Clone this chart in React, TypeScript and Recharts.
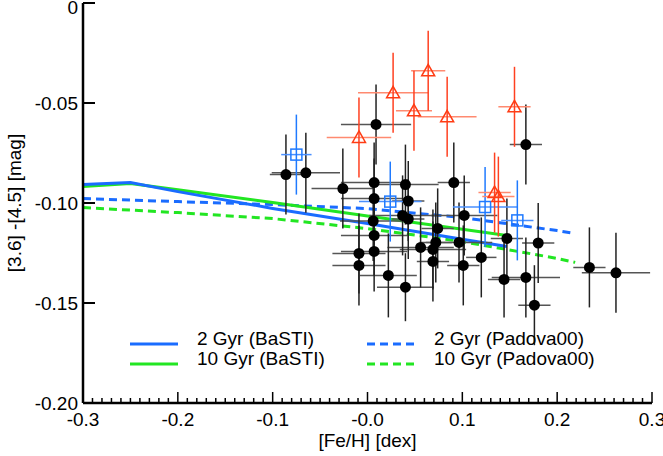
import { ComposedChart, Line, Scatter, XAxis, YAxis, ErrorBar, Legend } from "recharts"

const FONT = '"Liberation Sans", Arial, Helvetica, sans-serif'

// model tracks: [Fe/H] vs [3.6]-[4.5]
const bastiFe = [-0.3, -0.25, -0.2, -0.1, 0.0, 0.1, 0.147]
const basti2Gyr = [-0.0908, -0.0898, -0.0943, -0.1027, -0.1103, -0.1181, -0.1218]
const basti10Gyr = [-0.0918, -0.0903, -0.0934, -0.0998, -0.1065, -0.1131, -0.1162]

const padovaFe = [-0.3, -0.2, -0.1, 0.0, 0.1, 0.2, 0.219]
const padova2Gyr = [-0.0978, -0.0993, -0.1008, -0.1028, -0.1073, -0.1138, -0.1153]
const padova10Gyr = [-0.1023, -0.1048, -0.1078, -0.1128, -0.1193, -0.1277, -0.1297]

const legendOrder = ["2 Gyr (BaSTI)", "10 Gyr (BaSTI)", "2 Gyr (Padova00)", "10 Gyr (Padova00)"]

// observed clusters: [Fe/H], colour, err [Fe/H], err colour
const blackStars: [number, number, number, number][] = [
  [-0.086, -0.0858, 0.017, 0.02],
  [-0.065, -0.0849, 0.036, 0.02],
  [-0.026, -0.0928, 0.033, 0.02],
  [0.009, -0.0607, 0.037, 0.02],
  [0.007, -0.0898, 0.035, 0.02],
  [0.007, -0.0978, 0.035, 0.02],
  [0.006, -0.109, 0.035, 0.02],
  [0.007, -0.1162, 0.035, 0.02],
  [0.007, -0.1242, 0.035, 0.02],
  [0.040, -0.0908, 0.035, 0.02],
  [0.043, -0.099, 0.017, 0.02],
  [0.037, -0.1062, 0.035, 0.02],
  [0.043, -0.108, 0.017, 0.02],
  [0.091, -0.0898, 0.017, 0.02],
  [0.074, -0.1127, 0.017, 0.02],
  [0.056, -0.1222, 0.035, 0.02],
  [0.072, -0.1197, 0.017, 0.02],
  [0.069, -0.1232, 0.035, 0.02],
  [0.069, -0.1292, 0.017, 0.02],
  [0.0965, -0.1197, 0.035, 0.02],
  [0.101, -0.1312, 0.017, 0.02],
  [0.102, -0.1062, 0.035, 0.02],
  [0.120, -0.1272, 0.016, 0.02],
  [-0.009, -0.1252, 0.028, 0.02],
  [-0.009, -0.1312, 0.028, 0.02],
  [0.022, -0.1362, 0.030, 0.021],
  [0.040, -0.1421, 0.030, 0.017],
  [0.167, -0.0708, 0.017, 0.02],
  [0.147, -0.1177, 0.017, 0.02],
  [0.180, -0.12, 0.017, 0.02],
  [0.144, -0.1382, 0.017, 0.019],
  [0.167, -0.1372, 0.036, 0.02],
  [0.176, -0.1511, 0.017, 0.02],
  [0.234, -0.1322, 0.017, 0.02],
  [0.262, -0.1349, 0.036, 0.02],
]

const redStars: [number, number, number, number][] = [
  [-0.009, -0.0672, 0.034, 0.02],
  [0.027, -0.0449, 0.037, 0.02],
  [0.064, -0.0339, 0.018, 0.02],
  [0.049, -0.0539, 0.019, 0.02],
  [0.084, -0.0569, 0.031, 0.02],
  [0.155, -0.0519, 0.017, 0.02],
  [0.134, -0.0948, 0.017, 0.02],
  [0.138, -0.0968, 0.017, 0.02],
]

const blueStars: [number, number, number, number][] = [
  [-0.075, -0.0758, 0.016, 0.02],
  [0.024, -0.0993, 0.033, 0.02],
  [0.124, -0.102, 0.034, 0.02],
  [0.158, -0.1087, 0.017, 0.02],
]

const xMajorTicks = [-0.3, -0.2, -0.1, 0.0, 0.1, 0.2, 0.3]
const xTickLabels = ["-0.3", "-0.2", "-0.1", "-0.0", "0.1", "0.2", "0.3"]
const yTicks = [-0.2, -0.15, -0.1, -0.05, 0]
const yTickLabels = ["-0.20", "-0.15", "-0.10", "-0.05", "0"]

const xAllTicks = Array.from({ length: 61 }, (_, i) => Math.round((-0.3 + i * 0.01) * 1000) / 1000)

const track = (fe: number[], col: number[]) => fe.map((x, i) => ({ x, y: col[i] }))
const stars = (rows: [number, number, number, number][]) =>
  rows.map(([x, y, ex, ey]) => ({ x, y, ex, ey }))

const majorIndex = (v: number) => xMajorTicks.findIndex((t) => Math.abs(t - v) < 1e-6)

const BottomTick = (props: any) => {
  const { x, y, payload } = props
  const i = majorIndex(payload.value)
  return (
    <g>
      <line x1={x} x2={x} y1={y} y2={y - (i >= 0 ? 11 : 5)} stroke="#000" strokeWidth={1.5} />
      {i >= 0 && (
        <text x={x} y={y + 23} textAnchor="middle" fontSize={19} fontFamily={FONT} fill="#000">
          {xTickLabels[i]}
        </text>
      )}
    </g>
  )
}

const TopTick = (props: any) => {
  const { x, y, payload } = props
  const i = majorIndex(payload.value)
  return <line x1={x} x2={x} y1={y} y2={y + (i >= 0 ? 11 : 5)} stroke="#000" strokeWidth={1.5} />
}

const LeftTick = (props: any) => {
  const { x, y, payload } = props
  const i = yTicks.findIndex((t) => Math.abs(t - payload.value) < 1e-6)
  // the top label sits just inside the picture, as in the original
  const dy = i === yTicks.length - 1 ? 11 : 7
  return (
    <g>
      <line x1={x} x2={x + 12} y1={y} y2={y} stroke="#000" strokeWidth={2} />
      <text x={x - 5} y={y + dy} textAnchor="end" fontSize={19} fontFamily={FONT} fill="#000">
        {yTickLabels[i]}
      </text>
    </g>
  )
}

const RightTick = (props: any) => {
  const { x, y } = props
  return <line x1={x} x2={x - 12} y1={y} y2={y} stroke="#000" strokeWidth={2} />
}

const Dot = (p: any) => <circle cx={p.cx} cy={p.cy} r={5.5} fill="#000" />

const OpenTriangle = (p: any) => (
  <path
    d={`M${p.cx},${p.cy - 6.5} L${p.cx + 6.5},${p.cy + 5} L${p.cx - 6.5},${p.cy + 5} Z`}
    fill="none"
    stroke="#ff3c14"
    strokeWidth={1.5}
  />
)

const OpenSquare = (p: any) => (
  <rect x={p.cx - 5.5} y={p.cy - 5.5} width={11} height={11} fill="none" stroke="#1f7aff" strokeWidth={1.5} />
)

const TrackLegend = (props: any) => {
  const items = legendOrder
    .map((name) => (props.payload || []).find((e: any) => e.value === name))
    .filter(Boolean)
  return (
    <svg width={500} height={50}>
      {items.map((e: any, i: number) => {
        const col = Math.floor(i / 2)
        const row = i % 2
        const x0 = col ? 257 : 20
        const y0 = row ? 39 : 19
        return (
          <g key={i}>
            <line
              x1={x0}
              x2={x0 + 48}
              y1={y0}
              y2={y0}
              stroke={e.color}
              strokeWidth={3}
              strokeDasharray={e.payload?.strokeDasharray}
            />
            <text x={x0 + 67} y={y0 + 1} fontSize={19} fontFamily={FONT} fill="#000">
              {e.value}
            </text>
          </g>
        )
      })}
    </svg>
  )
}

const BLUE = "#1a6cff"
const GREEN = "#22e622"

const App = () => {
  return (
    <div style={{ position: "absolute", left: 0, top: 0, background: "#fff" }}>
      <ComposedChart width={663} height={456} margin={{ top: 3, right: 11, bottom: 0, left: 0 }}>
        <XAxis
          xAxisId="b"
          dataKey="x"
          type="number"
          domain={[-0.3, 0.3]}
          ticks={xAllTicks}
          interval={0}
          allowDataOverflow
          height={53}
          tickSize={0}
          tickMargin={0}
          tickLine={false}
          tick={<BottomTick />}
          axisLine={{ stroke: "#000", strokeWidth: 2.5 }}
          label={{
            content: (p: any) => (
              <text
                x={p.viewBox.x + p.viewBox.width / 2}
                y={p.viewBox.y + 44}
                textAnchor="middle"
                fontSize={19}
                fontFamily={FONT}
                fill="#000"
              >
                [Fe/H] [dex]
              </text>
            ),
          }}
        />
        <XAxis
          xAxisId="t"
          orientation="top"
          dataKey="x"
          type="number"
          domain={[-0.3, 0.3]}
          ticks={xAllTicks}
          interval={0}
          allowDataOverflow
          height={0}
          tickSize={0}
          tickMargin={0}
          tickLine={false}
          tick={<TopTick />}
          axisLine={{ stroke: "#000", strokeWidth: 2.5 }}
        />
        <YAxis
          yAxisId="l"
          dataKey="y"
          type="number"
          domain={[-0.2, 0]}
          ticks={yTicks}
          interval={0}
          allowDataOverflow
          width={83}
          tickSize={0}
          tickMargin={0}
          tickLine={false}
          tick={<LeftTick />}
          axisLine={{ stroke: "#000", strokeWidth: 2.5 }}
          label={{
            content: (p: any) => {
              const cy = p.viewBox.y + p.viewBox.height / 2
              return (
                <text
                  transform={`translate(14,${cy}) rotate(-90)`}
                  textAnchor="middle"
                  dominantBaseline="central"
                  fontSize={19}
                  fontFamily={FONT}
                  fill="#000"
                >
                  [3.6] -[4.5] [mag]
                </text>
              )
            },
          }}
        />
        <YAxis
          yAxisId="r"
          orientation="right"
          dataKey="y"
          type="number"
          domain={[-0.2, 0]}
          ticks={yTicks}
          interval={0}
          allowDataOverflow
          width={0}
          tickSize={0}
          tickMargin={0}
          tickLine={false}
          tick={<RightTick />}
          axisLine={{ stroke: "#000", strokeWidth: 2.5 }}
        />
        <Legend
          layout="horizontal"
          verticalAlign="middle"
          align="center"
          content={<TrackLegend />}
          wrapperStyle={{ left: 110, top: 325, width: 500, height: 50 }}
        />
        <Line
          xAxisId="b"
          yAxisId="l"
          data={track(padovaFe, padova10Gyr)}
          dataKey="y"
          name="10 Gyr (Padova00)"
          stroke={GREEN}
          strokeWidth={3}
          strokeDasharray="8 5"
          dot={false}
          isAnimationActive={false}
        />
        <Line
          xAxisId="b"
          yAxisId="l"
          data={track(padovaFe, padova2Gyr)}
          dataKey="y"
          name="2 Gyr (Padova00)"
          stroke={BLUE}
          strokeWidth={3}
          strokeDasharray="8 5"
          dot={false}
          isAnimationActive={false}
        />
        <Line
          xAxisId="b"
          yAxisId="l"
          data={track(bastiFe, basti10Gyr)}
          dataKey="y"
          name="10 Gyr (BaSTI)"
          stroke={GREEN}
          strokeWidth={3}
          dot={false}
          isAnimationActive={false}
        />
        <Line
          xAxisId="b"
          yAxisId="l"
          data={track(bastiFe, basti2Gyr)}
          dataKey="y"
          name="2 Gyr (BaSTI)"
          stroke={BLUE}
          strokeWidth={3}
          dot={false}
          isAnimationActive={false}
        />
        <Scatter
          xAxisId="b"
          yAxisId="l"
          data={stars(blackStars)}
          dataKey="y"
          shape={<Dot />}
          legendType="none"
          isAnimationActive={false}
        >
          <ErrorBar dataKey="ex" direction="x" width={0} stroke="#555" strokeWidth={1.5} isAnimationActive={false} />
          <ErrorBar dataKey="ey" direction="y" width={0} stroke="#222" strokeWidth={1.5} isAnimationActive={false} />
        </Scatter>
        <Scatter
          xAxisId="b"
          yAxisId="l"
          data={stars(blueStars)}
          dataKey="y"
          shape={<OpenSquare />}
          legendType="none"
          isAnimationActive={false}
        >
          <ErrorBar dataKey="ex" direction="x" width={0} stroke="#4a90ff" strokeWidth={1.5} isAnimationActive={false} />
          <ErrorBar dataKey="ey" direction="y" width={0} stroke="#1f7aff" strokeWidth={1.5} isAnimationActive={false} />
        </Scatter>
        <Scatter
          xAxisId="b"
          yAxisId="l"
          data={stars(redStars)}
          dataKey="y"
          shape={<OpenTriangle />}
          legendType="none"
          isAnimationActive={false}
        >
          <ErrorBar dataKey="ex" direction="x" width={0} stroke="#ff8a70" strokeWidth={1.5} isAnimationActive={false} />
          <ErrorBar dataKey="ey" direction="y" width={0} stroke="#ff4020" strokeWidth={1.5} isAnimationActive={false} />
        </Scatter>
      </ComposedChart>
    </div>
  )
}

export default App
